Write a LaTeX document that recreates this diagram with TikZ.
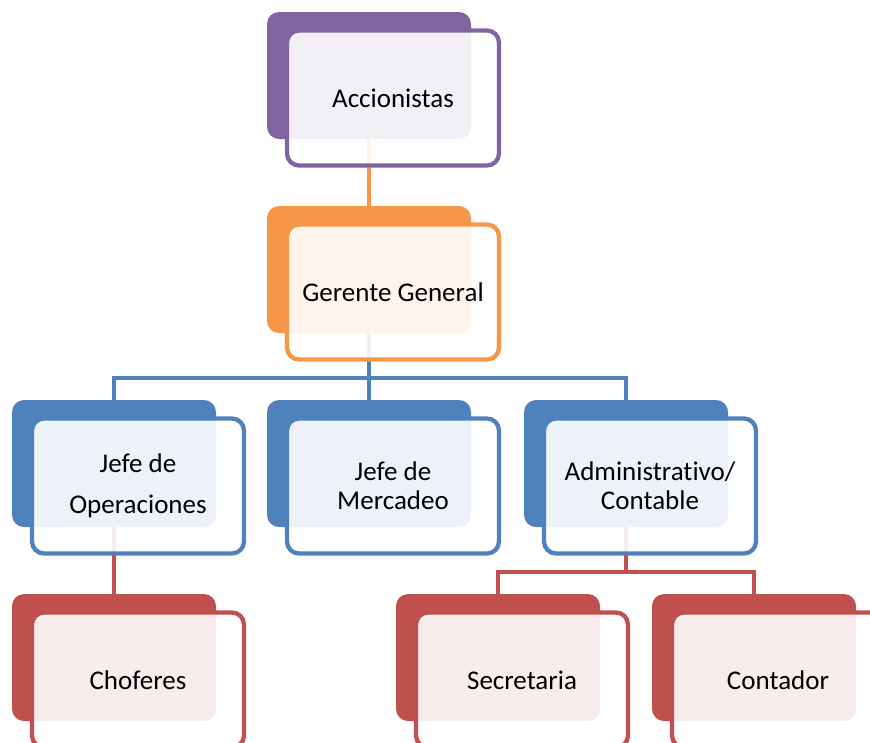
\documentclass[tikz,border=0pt]{standalone}
\usepackage{fontspec}
\setmainfont{Carlito}[Ligatures=NoCommon]
\definecolor{cpurple}{HTML}{8064A2}
\definecolor{corange}{HTML}{F79646}
\definecolor{cblue}{HTML}{4F81BD}
\definecolor{cred}{HTML}{C0504D}
\tikzset{
  backbox/.style={fill=#1, draw=none, rounded corners=12pt, minimum width=204pt, minimum height=127pt, inner sep=0pt, outer sep=0pt},
  frontbox/.style={draw=#1, line width=4.3pt, fill=white, fill opacity=0.9, text opacity=1, rounded corners=12pt, minimum width=212pt, minimum height=135pt, inner sep=0pt, outer sep=0pt, align=center, font=\fontsize{27}{29}\selectfont},
  conn/.style={draw=#1, line width=4.5pt},
}
\newcommand\backat[4]{\node[backbox=#4] (#1) at (#2+102,#3+63.5) {};}
\newcommand\frontat[5]{\node[frontbox=#4] (#1) at (#2+126,#3+86) {#5};}
\begin{document}
\begin{tikzpicture}[x=1pt,y=-1pt]
\useasboundingbox (0,0) rectangle (870,742);
\clip (0,0) rectangle (870,742);
% back shapes
\backat{accB}{267}{12}{cpurple}
\backat{gerB}{267}{206}{corange}
\backat{jopB}{12}{400}{cblue}
\backat{jmeB}{267}{400}{cblue}
\backat{admB}{524}{400}{cblue}
\backat{choB}{12}{594}{cred}
\backat{secB}{396}{594}{cred}
\backat{conB}{652}{594}{cred}
% connectors
\draw[conn=corange] (accB.south) -- (gerB.north);
\draw[conn=cblue] (gerB.south) -- ++(0,45) coordinate (bar1);
\draw[conn=cblue] (jopB.north) |- (bar1) -| (admB.north);
\draw[conn=cblue] (bar1) -- (jmeB.north);
\draw[conn=cred] (jopB.south) -- (choB.north);
\draw[conn=cred] (admB.south) -- ++(0,45) coordinate (bar2);
\draw[conn=cred] (secB.north) |- (bar2) -| (conB.north);
% front shapes
\frontat{acc}{267}{12}{cpurple}{Accionistas}
\frontat{ger}{267}{206}{corange}{Gerente General}
\frontat{jop}{12}{400}{cblue}{Jefe de\\[12pt]Operaciones}
\frontat{jme}{267}{400}{cblue}{Jefe de\\Mercadeo}
\frontat{adm}{524}{400}{cblue}{Administrativo/\\Contable}
\frontat{cho}{12}{594}{cred}{Choferes}
\frontat{sec}{396}{594}{cred}{Secretaria}
\frontat{con}{652}{594}{cred}{Contador}
\end{tikzpicture}
\end{document}
